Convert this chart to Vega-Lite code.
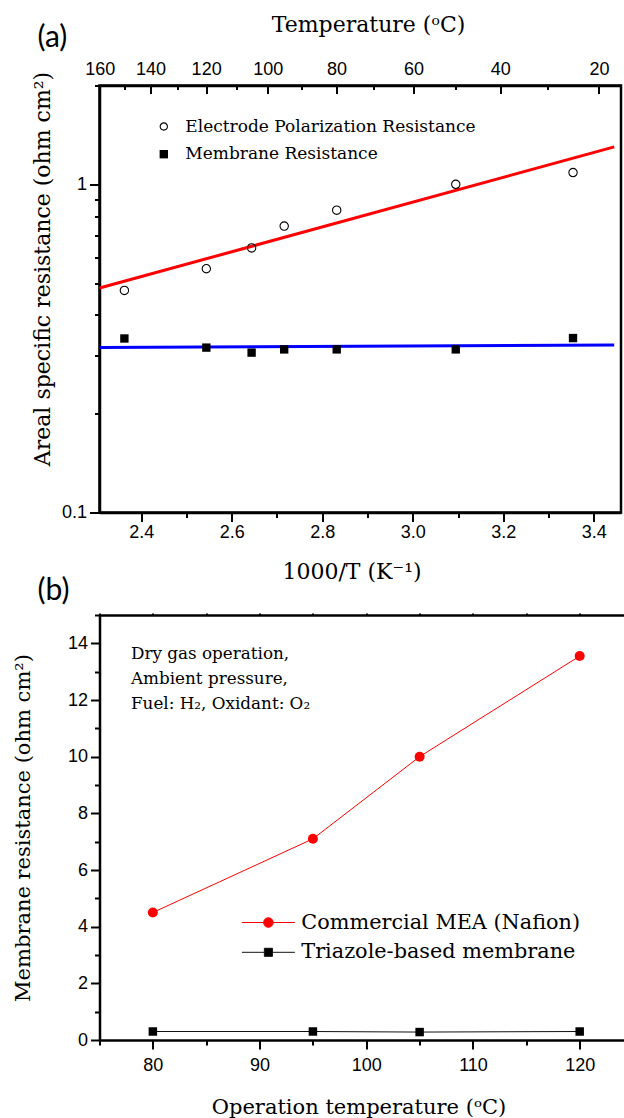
{
  "$schema": "https://vega.github.io/schema/vega-lite/v6.json",
  "background": "white",
  "padding": {"left": 12.5, "top": 11.5, "right": 0, "bottom": 0},
  "datasets": {
    "arrhenius": [
      {"inv_t": 2.363, "asr": 0.475, "component": "Electrode Polarization Resistance"},
      {"inv_t": 2.544, "asr": 0.553, "component": "Electrode Polarization Resistance"},
      {"inv_t": 2.644, "asr": 0.640, "component": "Electrode Polarization Resistance"},
      {"inv_t": 2.716, "asr": 0.746, "component": "Electrode Polarization Resistance"},
      {"inv_t": 2.832, "asr": 0.834, "component": "Electrode Polarization Resistance"},
      {"inv_t": 3.095, "asr": 1.000, "component": "Electrode Polarization Resistance"},
      {"inv_t": 3.354, "asr": 1.086, "component": "Electrode Polarization Resistance"},
      {"inv_t": 2.363, "asr": 0.339, "component": "Membrane Resistance"},
      {"inv_t": 2.544, "asr": 0.318, "component": "Membrane Resistance"},
      {"inv_t": 2.644, "asr": 0.307, "component": "Membrane Resistance"},
      {"inv_t": 2.716, "asr": 0.314, "component": "Membrane Resistance"},
      {"inv_t": 2.832, "asr": 0.314, "component": "Membrane Resistance"},
      {"inv_t": 3.095, "asr": 0.314, "component": "Membrane Resistance"},
      {"inv_t": 3.354, "asr": 0.340, "component": "Membrane Resistance"}
    ],
    "fits": [
      {"inv_t": 2.308, "asr": 0.483, "component": "Electrode Polarization Resistance"},
      {"inv_t": 3.445, "asr": 1.30, "component": "Electrode Polarization Resistance"},
      {"inv_t": 2.308, "asr": 0.318, "component": "Membrane Resistance"},
      {"inv_t": 3.445, "asr": 0.324, "component": "Membrane Resistance"}
    ],
    "operation": [
      {"temp": 80, "resistance": 4.5, "membrane": "Commercial MEA (Nafion)"},
      {"temp": 95, "resistance": 7.1, "membrane": "Commercial MEA (Nafion)"},
      {"temp": 105, "resistance": 10.0, "membrane": "Commercial MEA (Nafion)"},
      {"temp": 120, "resistance": 13.55, "membrane": "Commercial MEA (Nafion)"},
      {"temp": 80, "resistance": 0.3, "membrane": "Triazole-based membrane"},
      {"temp": 95, "resistance": 0.3, "membrane": "Triazole-based membrane"},
      {"temp": 105, "resistance": 0.28, "membrane": "Triazole-based membrane"},
      {"temp": 120, "resistance": 0.3, "membrane": "Triazole-based membrane"}
    ]
  },
  "bounds": "flush",
  "spacing": 102.5,
  "resolve": {
    "scale": {"color": "independent", "shape": "independent", "fill": "independent", "size": "independent"},
    "legend": {"color": "independent", "shape": "independent", "fill": "independent", "size": "independent"}
  },
  "vconcat": [
    {
      "width": 521.5,
      "height": 427,
      "title": {"text": "(a)", "anchor": "start", "frame": "group", "font": "Lato", "fontSize": 30, "fontWeight": "normal", "color": "black", "baseline": "middle", "dx": -62, "dy": 58.5},
      "encoding": {
        "x": {
          "field": "inv_t", "type": "quantitative",
          "scale": {"domain": [2.308, 3.46], "nice": false, "zero": false},
          "axis": {
            "orient": "bottom",
            "values": [2.4, 2.5, 2.6, 2.7, 2.8, 2.9, 3.0, 3.1, 3.2, 3.3, 3.4],
            "labelExpr": "round(datum.value * 10) % 2 == 0 ? format(datum.value, '.1f') : ''",
            "tickSize": {"condition": {"test": "round(datum.value * 10) % 2 == 0", "value": 9}, "value": 5},
            "labelPadding": 2,
            "title": "1000/T (K⁻¹)",
            "titleFontSize": 22,
            "titlePadding": 20,
            "titleX": 252
          }
        },
        "y": {
          "field": "asr", "type": "quantitative",
          "scale": {"type": "log", "domain": [0.1, 2], "nice": false},
          "axis": {
            "values": [0.1, 0.2, 0.3, 0.4, 0.5, 0.6, 0.7, 0.8, 0.9, 1, 2],
            "labelExpr": "datum.value == 1 ? '1' : (abs(datum.value - 0.1) < 1e-6 ? '0.1' : '')",
            "tickSize": {"condition": {"test": "datum.value == 1 || abs(datum.value - 0.1) < 1e-6", "value": 10}, "value": 5},
            "labelPadding": 3,
            "title": "Areal specific resistance (ohm cm²)",
            "titleFontSize": 22,
            "titlePadding": 7,
            "titleY": 183
          }
        }
      },
      "layer": [
        {
          "data": {"name": "fits"},
          "mark": {"type": "line", "strokeWidth": 3},
          "encoding": {
            "color": {
              "field": "component", "type": "nominal",
              "scale": {"domain": ["Electrode Polarization Resistance", "Membrane Resistance"], "range": ["#ff0000", "#0000ff"]},
              "legend": {
                "orient": "none", "legendX": 55.8, "legendY": 32.5, "title": null, "padding": 0,
                "labelFont": "DejaVu Serif", "labelFontSize": 17, "labelLimit": 0, "labelColor": "black",
                "symbolSize": 70, "rowPadding": 9.7, "labelOffset": 13,
                "encode": {
                  "symbols": {
                    "update": {
                      "shape": {"signal": "datum.value === 'Electrode Polarization Resistance' ? 'M-1,0A1,1,0,1,1,1,0A1,1,0,1,1,-1,0Z M-0.74,0A0.74,0.74,0,1,0,0.74,0A0.74,0.74,0,1,0,-0.74,0Z' : 'M-1,-1H1V1H-1Z'"},
                      "fill": {"value": "#000000"},
                      "strokeWidth": {"value": 0},
                      "strokeOpacity": {"value": 0},
                      "size": {"value": 70},
                      "opacity": {"value": 1}
                    }
                  }
                }
              }
            }
          }
        },
        {
          "data": {"name": "arrhenius"},
          "transform": [{"filter": "datum.component === 'Electrode Polarization Resistance'"}],
          "mark": {"type": "point", "shape": "circle", "filled": false, "color": "#000000", "strokeWidth": 1.1, "size": 70, "opacity": 1},
          "encoding": {
            "x": {"field": "inv_t", "type": "quantitative", "axis": null}
          }
        },
        {
          "data": {"name": "arrhenius"},
          "transform": [{"filter": "datum.component === 'Membrane Resistance'"}],
          "mark": {"type": "point", "shape": "square", "filled": true, "color": "#000000", "size": 70, "opacity": 1},
          "encoding": {
            "x": {"field": "inv_t", "type": "quantitative", "axis": null}
          }
        },
        {
          "data": {"name": "arrhenius"},
          "mark": {"type": "point", "opacity": 0},
          "encoding": {
            "x": {
              "field": "inv_t", "type": "quantitative",
              "axis": {
                "orient": "top",
                "values": [2.30867, 2.36323, 2.42043, 2.48047, 2.54356, 2.60994, 2.67989, 2.75368, 2.83166, 2.91418, 3.00165, 3.09454, 3.19336, 3.29870, 3.41122],
                "labelExpr": "round(1000 / datum.value - 273.15) % 20 == 0 ? format(round(1000 / datum.value - 273.15), 'd') : ''",
                "tickSize": {"condition": {"test": "round(1000 / datum.value - 273.15) % 20 == 0", "value": -8}, "value": -4},
                "labelPadding": 15.5,
                "title": "Temperature (ᵒC)",
                "titleFontSize": 22,
                "titlePadding": 20,
                "titleX": 268.5
              }
            }
          }
        }
      ],
      "resolve": {"axis": {"x": "independent"}}
    },
    {
      "width": 525,
      "height": 425,
      "view": {"stroke": null},
      "title": {"text": "(b)", "anchor": "start", "frame": "group", "font": "Lato", "fontSize": 30, "fontWeight": "normal", "color": "black", "baseline": "middle", "dx": -62, "dy": 19},
      "layer": [
        {
          "encoding": {
            "x": {
              "field": "temp", "type": "quantitative",
              "scale": {"domain": [75, 124.2], "nice": false, "zero": false},
              "axis": {
                "orient": "bottom",
                "values": [75, 80, 85, 90, 95, 100, 105, 110, 115, 120],
                "labelExpr": "datum.value % 10 == 0 ? datum.label : ''",
                "tickSize": {"condition": {"test": "datum.value % 10 == 0", "value": 9}, "value": 5},
                "labelPadding": 7,
                "title": "Operation temperature (ᵒC)",
                "titleFontSize": 21,
                "titlePadding": 22,
                "titleX": 259
              }
            },
            "y": {
              "field": "resistance", "type": "quantitative",
              "scale": {"domain": [0, 15], "nice": false, "zero": false},
              "axis": {
                "values": [0, 1, 2, 3, 4, 5, 6, 7, 8, 9, 10, 11, 12, 13, 14, 15],
                "labelExpr": "datum.value % 2 == 0 ? datum.label : ''",
                "tickSize": {"condition": {"test": "datum.value % 2 == 0", "value": 9}, "value": 5},
                "labelPadding": 3,
                "title": "Membrane resistance (ohm cm²)",
                "titleFontSize": 21,
                "titlePadding": 33.5
              }
            }
          },
          "layer": [
            {
              "data": {"name": "operation"},
              "mark": {"type": "line", "strokeWidth": 1},
              "encoding": {
                "color": {
                  "field": "membrane", "type": "nominal",
                  "scale": {"domain": ["Commercial MEA (Nafion)", "Triazole-based membrane"], "range": ["#ff0000", "#111111"]},
                  "legend": {
                    "orient": "none", "legendX": 157.4, "legendY": 296, "title": null, "padding": 0,
                    "labelFont": "DejaVu Serif", "labelFontSize": 20.8, "labelLimit": 0, "labelColor": "black",
                    "symbolSize": 450, "rowPadding": 7.8, "labelOffset": 21.4,
                    "encode": {
                      "symbols": {
                        "update": {
                          "shape": {"signal": "datum.value === 'Commercial MEA (Nafion)' ? 'M-2.5,0H-0.45M0.45,0H2.5M-0.45,0A0.45,0.45,0,1,0,0.45,0A0.45,0.45,0,1,0,-0.45,0Z' : 'M-2.5,0H-0.38M0.38,0H2.5M-0.38,-0.38H0.38V0.38H-0.38Z'"},
                          "fill": {"signal": "datum.value === 'Commercial MEA (Nafion)' ? '#ff0000' : '#000000'"},
                          "stroke": {"signal": "datum.value === 'Commercial MEA (Nafion)' ? '#ff0000' : '#111111'"},
                          "strokeWidth": {"value": 1},
                          "size": {"value": 450},
                          "opacity": {"value": 1}
                        }
                      }
                    }
                  }
                }
              }
            },
            {
              "data": {"name": "operation"},
              "transform": [{"filter": "datum.membrane === 'Commercial MEA (Nafion)'"}],
              "mark": {"type": "point", "shape": "circle", "filled": true, "color": "#ff0000", "size": 100, "opacity": 1},
              "encoding": {
                "x": {"field": "temp", "type": "quantitative", "axis": null}
              }
            },
            {
              "data": {"name": "operation"},
              "transform": [{"filter": "datum.membrane === 'Triazole-based membrane'"}],
              "mark": {"type": "point", "shape": "square", "filled": true, "color": "#000000", "size": 72, "opacity": 1},
              "encoding": {
                "x": {"field": "temp", "type": "quantitative", "axis": null}
              }
            },
            {
              "data": {"name": "operation"},
              "mark": {"type": "point", "opacity": 0},
              "encoding": {
                "x": {
                  "field": "temp", "type": "quantitative",
                  "axis": {"orient": "top", "values": [75, 80, 85, 90, 95, 100, 105, 110, 115, 120], "labels": false, "tickSize": 2, "title": null}
                }
              }
            }
          ],
          "resolve": {"axis": {"x": "independent"}}
        },
        {
          "data": {"values": [{"note": "Dry gas operation,"}]},
          "mark": {"type": "text", "align": "left", "baseline": "middle", "font": "DejaVu Serif", "fontSize": 16.8, "color": "black", "dy": 0},
          "encoding": {
            "x": {"datum": 77.95, "type": "quantitative", "axis": null},
            "y": {"datum": 13.63, "type": "quantitative", "axis": {
                "values": [0, 1, 2, 3, 4, 5, 6, 7, 8, 9, 10, 11, 12, 13, 14, 15],
                "labelExpr": "datum.value % 2 == 0 ? datum.label : ''",
                "tickSize": {"condition": {"test": "datum.value % 2 == 0", "value": 9}, "value": 5},
                "labelPadding": 3,
                "title": "Membrane resistance (ohm cm²)",
                "titleFontSize": 21,
                "titlePadding": 33.5
              }},
            "text": {"field": "note", "type": "nominal"}
          }
        },
        {
          "data": {"values": [{"note": "Ambient pressure,"}]},
          "mark": {"type": "text", "align": "left", "baseline": "middle", "font": "DejaVu Serif", "fontSize": 16.8, "color": "black", "dy": 25},
          "encoding": {
            "x": {"datum": 77.95, "type": "quantitative", "axis": null},
            "y": {"datum": 13.63, "type": "quantitative", "axis": {
                "values": [0, 1, 2, 3, 4, 5, 6, 7, 8, 9, 10, 11, 12, 13, 14, 15],
                "labelExpr": "datum.value % 2 == 0 ? datum.label : ''",
                "tickSize": {"condition": {"test": "datum.value % 2 == 0", "value": 9}, "value": 5},
                "labelPadding": 3,
                "title": "Membrane resistance (ohm cm²)",
                "titleFontSize": 21,
                "titlePadding": 33.5
              }},
            "text": {"field": "note", "type": "nominal"}
          }
        },
        {
          "data": {"values": [{"note": "Fuel: H₂, Oxidant: O₂"}]},
          "mark": {"type": "text", "align": "left", "baseline": "middle", "font": "DejaVu Serif", "fontSize": 16.8, "color": "black", "dy": 50},
          "encoding": {
            "x": {"datum": 77.95, "type": "quantitative", "axis": null},
            "y": {"datum": 13.63, "type": "quantitative", "axis": {
                "values": [0, 1, 2, 3, 4, 5, 6, 7, 8, 9, 10, 11, 12, 13, 14, 15],
                "labelExpr": "datum.value % 2 == 0 ? datum.label : ''",
                "tickSize": {"condition": {"test": "datum.value % 2 == 0", "value": 9}, "value": 5},
                "labelPadding": 3,
                "title": "Membrane resistance (ohm cm²)",
                "titleFontSize": 21,
                "titlePadding": 33.5
              }},
            "text": {"field": "note", "type": "nominal"}
          }
        }
      ]
    }
  ],
  "config": {
    "view": {"stroke": "black", "strokeWidth": 2.5},
    "axis": {
      "domainColor": "black", "domainWidth": 2.5,
      "tickColor": "black", "tickWidth": 2,
      "labelFont": "Liberation Sans", "labelFontSize": 18, "labelColor": "black",
      "labelOverlap": false, "labelFlush": false,
      "titleFont": "DejaVu Serif", "titleFontSize": 19, "titleFontWeight": "normal", "titleColor": "black",
      "grid": false
    }
  }
}
